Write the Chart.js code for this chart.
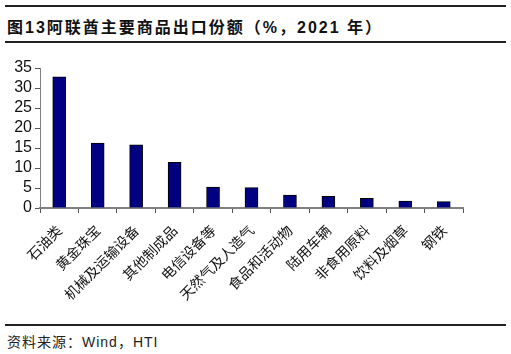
<!DOCTYPE html>
<html>
<head>
<meta charset="utf-8">
<script src="https://cdn.jsdelivr.net/npm/chart.js@4"></script>
<style>
  body { margin: 0; width: 511px; height: 354px; background: #fff; position: relative; overflow: hidden; font-family: Arial, "Liberation Sans", "Noto Sans CJK SC", sans-serif; }
  .rule { position: absolute; left: 5px; width: 501px; background: #222; }
  #title { position: absolute; left: 7px; top: 14px; font-size: 16px; font-weight: bold; letter-spacing: 2px; color: #111; white-space: nowrap; font-family: "Liberation Sans", "Noto Sans CJK SC", sans-serif; }
  #source { position: absolute; left: 7px; top: 331px; font-size: 14px; letter-spacing: 1px; color: #222; white-space: nowrap; font-family: "Liberation Sans", "Noto Sans CJK SC", sans-serif; }
  #wrap { position: absolute; left: 0; top: 50px; width: 511px; height: 270px; }
</style>
</head>
<body>
<div class="rule" style="top:5px;height:2px"></div>
<div id="title">图13阿联酋主要商品出口份额（%，2021 年）</div>
<div class="rule" style="top:41px;height:2px"></div>
<div id="wrap"><canvas id="chart"></canvas></div>
<div class="rule" style="top:324px;height:2px"></div>
<div id="source">资料来源：Wind，HTI</div>
<script>
const categories = ['石油类', '黄金珠宝', '机械及运输设备', '其他制成品', '电信设备等', '天然气及人造气', '食品和活动物', '陆用车辆', '非食用原料', '饮料及烟草', '钢铁'];
const shares = [32.8, 16.2, 15.8, 11.4, 5.2, 5.1, 3.2, 2.9, 2.4, 1.7, 1.6];
const yTicks = [0, 5, 10, 15, 20, 25, 30, 35];

new Chart(document.getElementById('chart'), {
  type: 'bar',
  data: {
    labels: categories,
    datasets: [{
      data: shares,
      backgroundColor: '#000080',
      borderColor: '#000000',
      borderWidth: 1,
      barThickness: 13
    }]
  },
  options: {
    responsive: true,
    maintainAspectRatio: false,
    animation: false,
    layout: { padding: { top: 18, right: 48, left: 0, bottom: 0 } },
    plugins: { legend: { display: false }, tooltip: { enabled: false } },
    scales: {
      x: {
        afterFit: s => { s.height = 112; },
        border: { color: '#808080', width: 2 },
        grid: { offset: true, drawOnChartArea: false, color: '#555', tickLength: 5, lineWidth: 1 },
        ticks: {
          minRotation: 45, maxRotation: 45, autoSkip: false, color: '#111', padding: 9,
          font: { family: '"Noto Sans CJK SC", sans-serif', size: 14 }
        }
      },
      y: {
        min: 0, max: 35,
        afterFit: s => { s.width = 40; },
        afterBuildTicks: s => { s.ticks = yTicks.map(v => ({ value: v })); },
        border: { color: '#808080', width: 1 },
        grid: { drawOnChartArea: false, color: '#555', tickLength: 5 },
        ticks: { autoSkip: false, color: '#111', padding: 3, font: { family: 'Arial, "Liberation Sans", sans-serif', size: 16 } }
      }
    }
  }
});
</script>
</body>
</html>
